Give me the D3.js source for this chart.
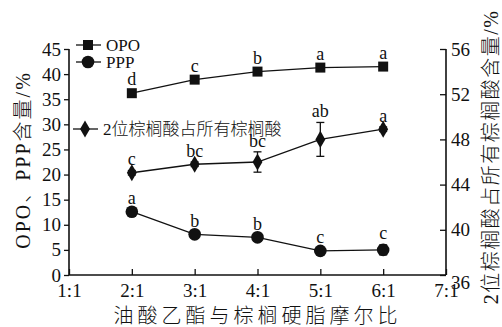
<!DOCTYPE html>
<html><head><meta charset="utf-8">
<script src="https://cdn.jsdelivr.net/npm/d3@7"></script>
<style>body{margin:0;background:#fff}svg{display:block}text{font-family:"Liberation Serif","Noto Sans CJK SC",serif;fill:#111}.cjk{font-weight:300}</style>
</head><body>
<svg id="c" width="502" height="327"></svg>
<script>
const categories = ["2:1","3:1","4:1","5:1","6:1"];
const xTicks = ["1:1","2:1","3:1","4:1","5:1","6:1","7:1"];
const opo = [36.2, 38.9, 40.5, 41.3, 41.5];
const opoLetters = ["d","c","b","a","a"];
const ppp = [12.6, 8.1, 7.5, 4.8, 5.0];
const pppErr = [0.3, 0.3, 0.3, 0.4, 1.0];
const pppLetters = ["a","b","b","c","c"];
const sn2 = [45.05, 45.8, 46.0, 48.0, 48.9];
const sn2Err = [0.2, 0.2, 0.9, 1.5, 0.2];
const sn2Letters = ["c","bc","bc","ab","a"];
const leftTicks = [0,5,10,15,20,25,30,35,40,45];
const rightTicks = [36,40,44,48,52,56];

const svg = d3.select("#c");
const L = 69, R = 446, T = 49, B = 275;
const x = d3.scalePoint().domain(xTicks).range([L, R]);
const yL = d3.scaleLinear().domain([0,45]).range([B, T]);
const yR = d3.scaleLinear().domain([36,56]).range([B, T]);
const col = "#111";

// axes
const gx = svg.append("g").attr("transform",`translate(0,${B})`)
  .call(d3.axisBottom(x).tickSize(-6).tickPadding(9));
const gl = svg.append("g").attr("transform",`translate(${L},0)`)
  .call(d3.axisLeft(yL).tickValues(leftTicks).tickSize(5).tickPadding(3));
const gr = svg.append("g").attr("transform",`translate(${R},0)`)
  .call(d3.axisRight(yR).tickValues(rightTicks).tickSize(-6).tickPadding(5));
[gx,gl,gr].forEach(g=>{
  g.select(".domain").attr("stroke",col).attr("stroke-width",1.6);
  g.selectAll(".tick line").attr("stroke",col).attr("stroke-width",1.3);
  g.selectAll(".tick text").style("font-size","19px").attr("fill",col);
});
gx.select(".domain").attr("d",`M${L},0H${R}`);
gl.select(".domain").attr("d",`M0,${yL(45)}V${B}`);
gr.select(".domain").attr("d",`M0,${yR(56)}V${B}`);
gr.selectAll(".tick").filter(d=>d===36).select("text").attr("dy","0.7em");

const line = (ys, y) => d3.line().x((d,i)=>x(categories[i])).y(d=>y(d))(ys);
svg.append("path").attr("d",line(opo,yL)).attr("fill","none").attr("stroke",col).attr("stroke-width",1.3);
svg.append("path").attr("d",line(ppp,yL)).attr("fill","none").attr("stroke",col).attr("stroke-width",1.3);
svg.append("path").attr("d",line(sn2,yR)).attr("fill","none").attr("stroke",col).attr("stroke-width",1.3);

function errbar(ys, es, y){
  ys.forEach((v,i)=>{
    const cx = x(categories[i]);
    const g = svg.append("g").attr("stroke",col).attr("stroke-width",1.3);
    g.append("line").attr("x1",cx).attr("x2",cx).attr("y1",y(v-es[i])).attr("y2",y(v+es[i]));
    [v-es[i], v+es[i]].forEach(u=>g.append("line").attr("x1",cx-4).attr("x2",cx+4).attr("y1",y(u)).attr("y2",y(u)));
  });
}
errbar(ppp, pppErr, yL);
errbar(sn2, sn2Err, yR);

const sq = d3.symbol().type(d3.symbolSquare).size(100);
const ci = d3.symbol().type(d3.symbolCircle).size(125);
const di = d3.symbol().type(d3.symbolDiamond).size(85);
function marks(ys, y, sym){
  svg.append("g").selectAll("path").data(ys).join("path")
    .attr("d",sym).attr("fill",col)
    .attr("transform",(d,i)=>`translate(${x(categories[i])},${y(d)})`);
}
marks(opo, yL, sq);
marks(ppp, yL, ci);
marks(sn2, yR, di);

function letters(ys, y, ls, es, off){
  svg.append("g").selectAll("text").data(ys).join("text")
    .attr("x",(d,i)=>x(categories[i]))
    .attr("y",(d,i)=>y(d + (es?es[i]:0)) - off)
    .attr("text-anchor","middle").style("font-size","18px")
    .text((d,i)=>ls[i]);
}
letters(opo, yL, opoLetters, null, 8);
letters(ppp, yL, pppLetters, pppErr, 6);
letters(sn2, yR, sn2Letters, sn2Err, 5);

// legend
const lg = svg.append("g");
const legend = [
  {name:"OPO", y:45, sym:sq, x0:76},
  {name:"PPP", y:62, sym:ci, x0:76},
  {name:"2位棕榈酸占所有棕榈酸", y:129, sym:di, x0:73}
];
legend.forEach(d=>{
  lg.append("line").attr("x1",d.x0).attr("x2",d.x0+25).attr("y1",d.y).attr("y2",d.y).attr("stroke",col).attr("stroke-width",1.3);
  lg.append("path").attr("d",d.sym).attr("fill",col).attr("transform",`translate(${d.x0+12},${d.y})`);
  lg.append("text").attr("class","cjk").attr("x",d.x0+30).attr("y",d.y).attr("dy","0.35em").style("font-size","17px").text(d.name);
});

// axis titles
svg.append("text").attr("class","cjk").attr("transform",`translate(23,160) rotate(-90)`)
  .attr("text-anchor","middle").attr("dy","0.35em").style("font-size","20px").style("letter-spacing","2px").text("OPO、PPP含量/%");
svg.append("text").attr("class","cjk").attr("transform",`translate(491,157) rotate(-90)`)
  .attr("text-anchor","middle").attr("dy","0.35em").style("font-size","20px").style("letter-spacing","1.5px").text("2位棕榈酸占所有棕榈酸含量/%");
svg.append("text").attr("class","cjk").attr("x",(L+R)/2).attr("y",323).attr("text-anchor","middle").style("font-size","20px").style("letter-spacing","4px").text("油酸乙酯与棕榈硬脂摩尔比");
</script>
</body></html>
